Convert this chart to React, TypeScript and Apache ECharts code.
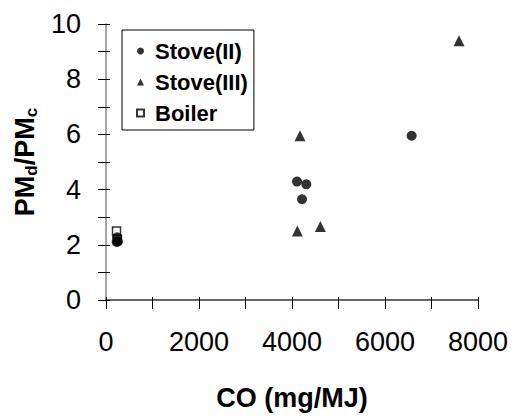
import React, { useEffect, useRef } from "react";
import * as echarts from "echarts";

const FONT = "'Liberation Sans', Arial, sans-serif";

// Data: [CO (mg/MJ), PMd/PMc]
const stoveII = [
  [6573, 5.95],
  [4108, 4.29],
  [4308, 4.19],
  [4215, 3.65],
  [240, 2.27],
  [255, 2.12],
  [228, 2.1],
];
const stoveIII = [
  [7591, 9.39],
  [4172, 5.95],
  [4115, 2.5],
  [4610, 2.66],
];
const boiler = [
  [226, 2.5],
  [245, 2.2],
];

const seriesNames = ["Stove(II)", "Stove(III)", "Boiler"];
const xTickLabels = [0, 2000, 4000, 6000, 8000];
const yTickLabels = [0, 2, 4, 6, 8, 10];

export default function App() {
  const ref = useRef<HTMLDivElement>(null);
  useEffect(() => {
    if (!ref.current) return;
    const chart = echarts.init(ref.current, undefined, { renderer: "svg" });
    const axisText = { fontFamily: FONT, fontSize: 27, color: "#000" };
    chart.setOption({
      animation: false,
      backgroundColor: "#fff",
      grid: { left: 106, right: 35, top: 24, bottom: 118, containLabel: false },
      legend: {
        orient: "vertical",
        left: 122,
        top: 30,
        data: seriesNames,
        itemWidth: 7,
        itemHeight: 7,
        itemGap: 9,
        padding: [10, 6, 6, 14],
        borderColor: "#000",
        borderWidth: 1,
        textStyle: {
          fontFamily: FONT,
          fontSize: 22,
          fontWeight: "bold",
          color: "#000",
          padding: [0, 0, 0, 6],
        },
      },
      xAxis: [
        {
          type: "value",
          min: 0,
          max: 8000,
          interval: 1000,
          position: "bottom",
          name: "CO (mg/MJ)",
          nameLocation: "middle",
          nameGap: 84,
          nameTextStyle: { ...axisText, fontWeight: "bold" },
          axisLine: { show: true, lineStyle: { color: "#333", width: 1.5 } },
          axisTick: { show: true, inside: false, length: 9, lineStyle: { color: "#000" } },
          axisLabel: {
            ...axisText,
            margin: 28,
            formatter: (v: number) => (xTickLabels.includes(v) ? String(v) : ""),
          },
          splitLine: { show: false },
        },
        {
          type: "value",
          min: 0,
          max: 8000,
          interval: 1000,
          position: "bottom",
          offset: 0,
          axisLine: { show: false },
          axisTick: { show: true, inside: true, length: 3, lineStyle: { color: "#000" } },
          axisLabel: { show: false },
          splitLine: { show: false },
        },
      ],
      yAxis: [
        {
          type: "value",
          min: 0,
          max: 10,
          interval: 1,
          position: "left",
          name: "{a|PM}{b|d}{a|/PM}{b|c}",
          nameLocation: "middle",
          nameGap: 66,
          nameRotate: 90,
          nameTextStyle: {
            fontFamily: FONT,
            color: "#000",
            rich: {
              a: { fontFamily: FONT, fontSize: 27, fontWeight: "bold", color: "#000", lineHeight: 30 },
              b: { fontFamily: FONT, fontSize: 17, fontWeight: "bold", color: "#000", lineHeight: 30, padding: [12, 0, 0, 0] },
            },
          },
          axisLine: { show: true, lineStyle: { color: "#888", width: 1.5 } },
          axisTick: { show: true, inside: false, length: 8, lineStyle: { color: "#000" } },
          axisLabel: {
            ...axisText,
            margin: 25,
            formatter: (v: number) => (yTickLabels.includes(v) ? String(v) : ""),
          },
          splitLine: { show: false },
        },
        {
          type: "value",
          min: 0,
          max: 10,
          interval: 1,
          position: "left",
          offset: 0,
          axisLine: { show: false },
          axisTick: { show: true, inside: true, length: 4, lineStyle: { color: "#000" } },
          axisLabel: { show: false },
          splitLine: { show: false },
        },
      ],
      series: [
        {
          name: "Boiler",
          type: "scatter",
          data: boiler,
          symbol: "rect",
          symbolSize: 8,
          itemStyle: { color: "#fff", borderColor: "#000", borderWidth: 1.5 },
          z: 2,
        },
        {
          name: "Stove(II)",
          type: "scatter",
          data: stoveII,
          symbol: "circle",
          symbolSize: 10,
          itemStyle: { color: "#000" },
          z: 3,
        },
        {
          name: "Stove(III)",
          type: "scatter",
          data: stoveIII,
          symbol: "triangle",
          symbolSize: 11,
          itemStyle: { color: "#000" },
          z: 3,
        },
      ],
    });
    return () => chart.dispose();
  }, []);
  return (
    <div
      ref={ref}
      style={{ position: "fixed", left: 0, top: 0, width: 513, height: 418, background: "#fff" }}
    />
  );
}
